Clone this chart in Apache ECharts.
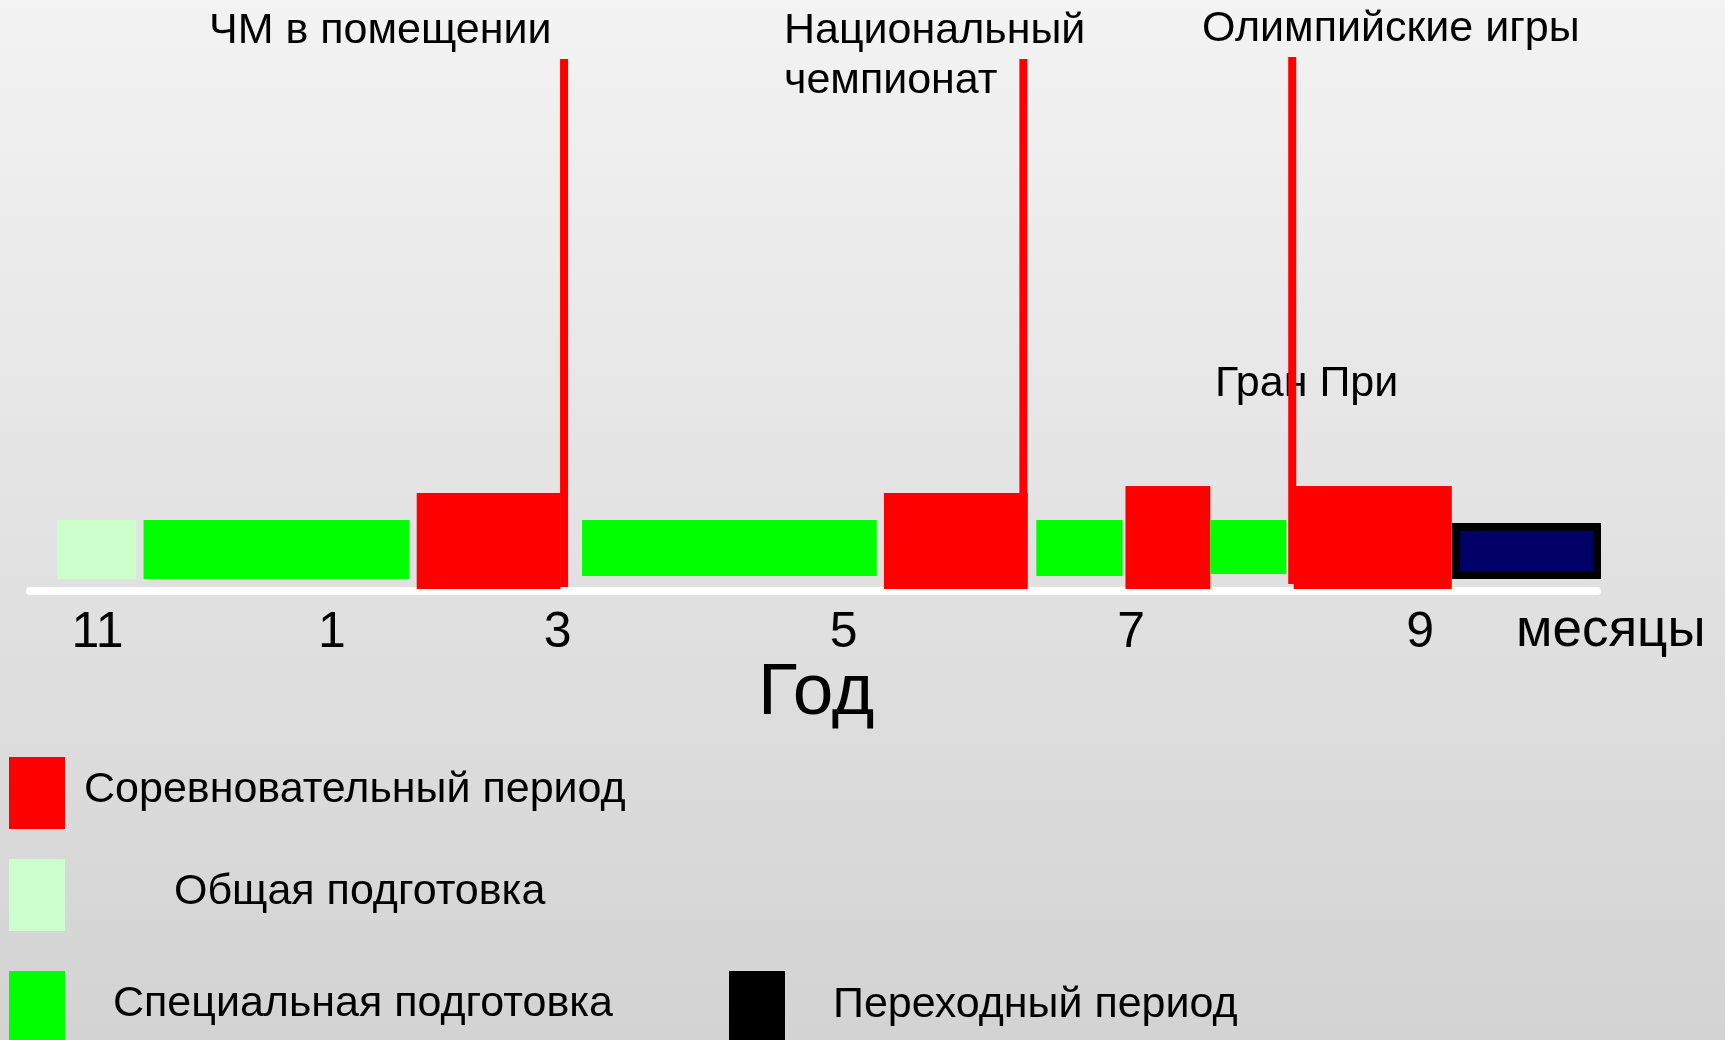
<!DOCTYPE html>
<html><head><meta charset="utf-8">
<script src="https://cdn.jsdelivr.net/npm/echarts@6/dist/echarts.min.js"></script>
<style>html,body{margin:0;padding:0;background:#fff;}#c{width:1725px;height:1040px;}</style>
</head><body><div id="c"></div>
<script>
// ---- DATA ----
// period types (legend categories)
const periodNames = ['Соревновательный период', 'Общая подготовка', 'Специальная подготовка', 'Переходный период'];
// segments of the year, in months (11 = Nov, 13 = Jan of next year, ...)
const segType  = [1, 2, 0, 2, 0, 2, 0, 2, 0, 3];
const segStart = [11.49, 12.09, 13.99, 15.14, 17.24, 18.30, 18.92, 19.51, 20.09, 21.22];
const segEnd   = [12.04, 13.94, 14.99, 17.19, 18.24, 18.90, 19.51, 20.04, 21.19, 22.20];
const segLow   = [2.25, 2.25, 0.37, 2.81, 0.37, 2.81, 0.37, 3.18, 0.37, 3.00];
const segHigh  = [13.30, 13.30, 18.35, 13.30, 18.35, 13.30, 19.66, 13.30, 19.66, 11.99];
// main competitions (vertical markers)
const eventNames = ['ЧМ в помещении', 'Национальный\nчемпионат', 'Олимпийские игры'];
const eventPos   = [15.015, 18.21, 20.08];
const eventTop   = [99.63, 99.63, 100];
const eventBot   = [0.75, 0.75, 1.31];
const extraLabel = 'Гран При';
// month tick labels
const monthLabels   = ['11', '1', '3', '5', '7', '9'];
const monthLabelPos = [11.77, 13.40, 14.97, 16.96, 18.96, 20.97];
const axisUnit = 'месяцы';
const axisTitle = 'Год';

// ---- STYLE / LAYOUT ----
const FONT = '"Liberation Sans", Arial, sans-serif';
const fillColors = ['#ff0000', '#ccffcc', '#00ff00', '#000066'];
const swatchColors = ['#ff0000', '#ccffcc', '#00ff00', '#000000'];
const swatchPos = [[9, 757], [9, 859], [9, 971], [729, 971]];
const legendTextPos = [[84, 790], [174, 892.5], [113, 1004.5], [833, 1005.5]];
const eventLabelPos = [[209, 31.5], [784, 6.5], [1202, 29.5]];
const extraLabelPos = [1215, 384];

const chart = echarts.init(document.getElementById('c'), null, {renderer: 'canvas'});

const segData = segStart.map((s, i) => [s, segEnd[i], segLow[i], segHigh[i], segType[i]]);
const eventData = eventPos.map((p, i) => [p, eventBot[i], eventTop[i]]);

function labelFor(v) {
  let best = 0, d = Infinity;
  monthLabelPos.forEach((p, i) => { const dd = Math.abs(p - v); if (dd < d) { d = dd; best = i; } });
  return monthLabels[best];
}

const graphics = [
  {type: 'rect', z: -100, silent: true, shape: {x: 0, y: 0, width: 1725, height: 1040},
   style: {fill: new echarts.graphic.LinearGradient(0, 0, 0, 1, [
     {offset: 0, color: '#f3f3f3'}, {offset: 1, color: '#d3d3d3'}])}}
];
eventNames.forEach((n, i) => {
  graphics.push({type: 'text', x: eventLabelPos[i][0], y: eventLabelPos[i][1],
    style: {text: n, font: '43px ' + FONT, fill: '#000', lineHeight: 50,
      textVerticalAlign: i === 1 ? 'top' : 'middle', verticalAlign: i === 1 ? 'top' : 'middle'}});
});
graphics.push({type: 'text', x: extraLabelPos[0], y: extraLabelPos[1],
  style: {text: extraLabel, font: '43px ' + FONT, fill: '#000', verticalAlign: 'middle', textVerticalAlign: 'middle'}});
graphics.push({type: 'text', x: 1516, y: 631,
  style: {text: axisUnit, font: '53px ' + FONT, fill: '#000', verticalAlign: 'middle', textVerticalAlign: 'middle'}});
graphics.push({type: 'text', x: 758, y: 693.5,
  style: {text: axisTitle, font: '73px ' + FONT, fill: '#000', verticalAlign: 'middle', textVerticalAlign: 'middle'}});
periodNames.forEach((n, i) => {
  graphics.push({type: 'rect', shape: {x: swatchPos[i][0], y: swatchPos[i][1], width: 56, height: 72},
    style: {fill: swatchColors[i]}});
  graphics.push({type: 'text', x: legendTextPos[i][0], y: legendTextPos[i][1],
    style: {text: n, font: '43px ' + FONT, fill: '#000', verticalAlign: 'middle', textVerticalAlign: 'middle'}});
});

chart.setOption({
  animation: false,
  backgroundColor: 'transparent',
  grid: {left: 30, right: 128, top: 57, bottom: 449, containLabel: false},
  xAxis: {
    type: 'value', min: 11.3, max: 22.2,
    splitLine: {show: false},
    axisTick: {show: false},
    axisLine: {show: true, lineStyle: {color: '#ffffff', width: 8}},
    axisLabel: {
      customValues: monthLabelPos,
      formatter: v => labelFor(v),
      fontFamily: FONT, fontSize: 50, color: '#000', lineHeight: 50, margin: 17
    }
  },
  yAxis: {type: 'value', min: 0, max: 100, show: false},
  graphic: graphics,
  series: [
    {
      type: 'custom', name: 'segments', clip: false, z: 3,
      data: segData,
      encode: {x: [0, 1], y: [2, 3]},
      renderItem: (params, api) => {
        const t = api.value(4);
        const a = api.coord([api.value(0), api.value(3)]);
        const b = api.coord([api.value(1), api.value(2)]);
        const style = {fill: fillColors[t]};
        if (t === 3) { style.stroke = '#000000'; style.lineWidth = 8; }
        return {type: 'rect', shape: {x: a[0], y: a[1], width: b[0] - a[0], height: b[1] - a[1]}, style};
      }
    },
    {
      type: 'custom', name: 'events', clip: false, z: 4,
      data: eventData,
      encode: {x: 0, y: [1, 2]},
      renderItem: (params, api) => {
        const a = api.coord([api.value(0), api.value(2)]);
        const b = api.coord([api.value(0), api.value(1)]);
        return {type: 'line', shape: {x1: a[0], y1: a[1], x2: b[0], y2: b[1]},
          style: {stroke: '#ff0000', lineWidth: 8}};
      }
    }
  ]
});
</script></body></html>
